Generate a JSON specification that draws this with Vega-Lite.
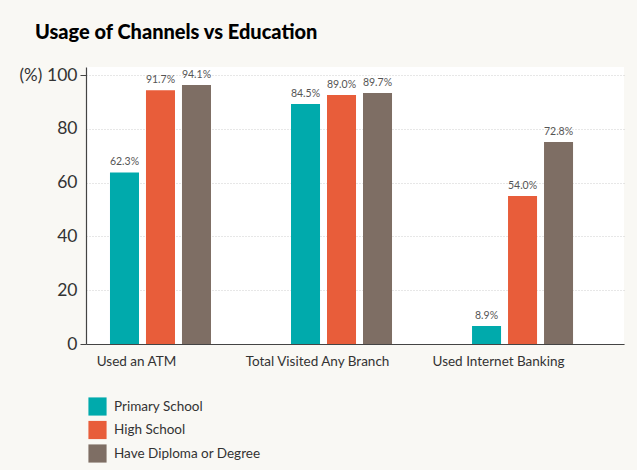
{
  "$schema": "https://vega.github.io/schema/vega-lite/v6.json",
  "width": 538,
  "height": 277,
  "autosize": {"type": "none"},
  "padding": {"left": 86, "top": 67, "right": 13, "bottom": 126},
  "background": "#f9f8f4",
  "title": {
    "text": "Usage of Channels vs Education",
    "anchor": "start",
    "frame": "group",
    "dx": -51,
    "font": "Lato",
    "fontWeight": 900,
    "fontSize": 20,
    "color": "#000000",
    "baseline": "alphabetic",
    "offset": 7
  },
  "config": {
    "view": {"fill": "#ffffff", "stroke": null},
    "font": "Lato"
  },
  "data": {
    "values": [
      {"channel": "Used an ATM", "education": "Primary School", "value": 63.8, "label": "62.3%"},
      {"channel": "Used an ATM", "education": "High School", "value": 94.4, "label": "91.7%"},
      {"channel": "Used an ATM", "education": "Have Diploma or Degree", "value": 96.3, "label": "94.1%"},
      {"channel": "Total Visited Any Branch", "education": "Primary School", "value": 89.2, "label": "84.5%"},
      {"channel": "Total Visited Any Branch", "education": "High School", "value": 92.6, "label": "89.0%"},
      {"channel": "Total Visited Any Branch", "education": "Have Diploma or Degree", "value": 93.3, "label": "89.7%"},
      {"channel": "Used Internet Banking", "education": "Primary School", "value": 6.7, "label": "8.9%"},
      {"channel": "Used Internet Banking", "education": "High School", "value": 55.0, "label": "54.0%"},
      {"channel": "Used Internet Banking", "education": "Have Diploma or Degree", "value": 75.1, "label": "72.8%"}
    ]
  },
  "encoding": {
    "x": {
      "field": "channel",
      "type": "nominal",
      "sort": ["Used an ATM", "Total Visited Any Branch", "Used Internet Banking"],
      "scale": {"paddingInner": 0.442, "paddingOuter": 0.207, "align": 0.32},
      "axis": {
        "title": null,
        "labelAngle": 0,
        "labelFontSize": 13.5,
        "labelColor": "#333333",
        "labelOffset": -24,
        "labelPadding": 10,
        "ticks": false,
        "domainColor": "#444444",
        "domainWidth": 1.2
      }
    },
    "xOffset": {
      "field": "education",
      "type": "nominal",
      "sort": ["Primary School", "High School", "Have Diploma or Degree"],
      "scale": {"paddingInner": 0.194, "paddingOuter": 0}
    },
    "y": {
      "field": "value",
      "type": "quantitative",
      "scale": {"domain": [0, 103], "nice": false},
      "axis": {
        "values": [0, 20, 40, 60, 80, 100],
        "title": "(%)",
        "titleAngle": 0,
        "titleAlign": "left",
        "titleBaseline": "middle",
        "titleX": -67,
        "titleY": 8,
        "titleFontSize": 17,
        "titleFontWeight": "normal",
        "titleColor": "#333333",
        "labelFontSize": 17.5,
        "labelColor": "#333333",
        "labelPadding": 3,
        "tickSize": 6,
        "tickColor": "#444444",
        "tickOpacity": {"condition": {"test": "datum.value == 0 || datum.value == 100", "value": 1}, "value": 0},
        "domainColor": "#444444",
        "domainWidth": 1.2,
        "gridColor": "#cfcfcf",
        "gridDash": [1, 2],
        "gridWidth": 1
      }
    }
  },
  "layer": [
    {
      "mark": {"type": "bar"},
      "encoding": {
        "color": {
          "field": "education",
          "type": "nominal",
          "scale": {
            "domain": ["Primary School", "High School", "Have Diploma or Degree"],
            "range": ["#00aaac", "#e85d3a", "#7e6e64"]
          },
          "legend": {
            "title": null,
            "orient": "none",
            "legendX": 2,
            "legendY": 330,
            "direction": "vertical",
            "symbolType": "square",
            "symbolSize": 330,
            "symbolStrokeWidth": 0,
            "symbolOpacity": 1,
            "rowPadding": 4.5,
            "labelFontSize": 13.5,
            "labelColor": "#333333",
            "labelOffset": 7
          }
        }
      }
    },
    {
      "mark": {"type": "text", "baseline": "bottom", "dy": -5, "fontSize": 10.5, "color": "#555555"},
      "encoding": {
        "text": {"field": "label"}
      }
    }
  ]
}
